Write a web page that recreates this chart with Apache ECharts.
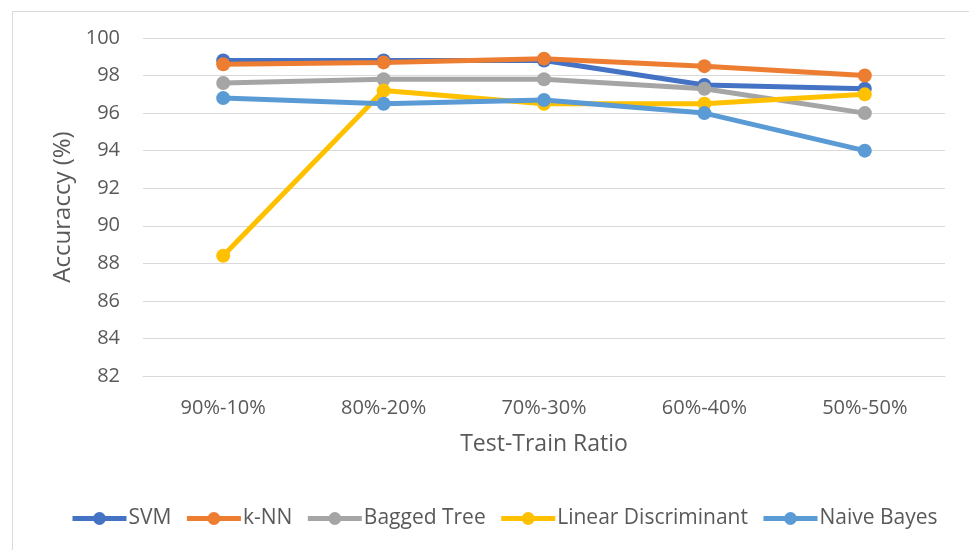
<!DOCTYPE html>
<html>
<head>
<meta charset="utf-8">
<script src="https://cdn.jsdelivr.net/npm/echarts@6/dist/echarts.min.js"></script>
<style>
  html, body { margin: 0; padding: 0; background: #fff; }
  #chart { width: 969px; height: 550px; }
</style>
</head>
<body>
<div id="chart"></div>
<script>
// Test-train split ratios along the x axis
const categories = ['90%-10%', '80%-20%', '70%-30%', '60%-40%', '50%-50%'];

// Classifier accuracies (%)
const svm = [98.8, 98.8, 98.8, 97.5, 97.3];
const knn = [98.6, 98.7, 98.9, 98.5, 98.0];
const baggedTree = [97.6, 97.8, 97.8, 97.3, 96.0];
const linearDiscriminant = [88.4, 97.2, 96.5, 96.5, 97.0];
const naiveBayes = [96.8, 96.5, 96.7, 96.0, 94.0];

// Y axis range and step
const yMin = 82, yMax = 100, yStep = 2;

const font = '"Open Sans", Lato, sans-serif';
const textColor = '#595959';
const gridColor = '#d9d9d9';

function lineSeries(name, data, color) {
  return {
    name: name,
    type: 'line',
    data: data,
    symbol: 'circle',
    symbolSize: 14,
    lineStyle: { width: 5, color: color },
    itemStyle: { color: color },
    emphasis: { disabled: true }
  };
}

const chart = echarts.init(document.getElementById('chart'), null, { renderer: 'canvas' });
chart.setOption({
  animation: false,
  backgroundColor: '#ffffff',
  graphic: [{
    type: 'rect',
    left: 10, top: 9,
    shape: { width: 1000, height: 600 },
    style: { fill: 'none', stroke: '#d9d9d9', lineWidth: 1 },
    z: -1
  }],
  grid: { left: 143, right: 24, top: 38, bottom: 174 },
  legend: {
    left: 70,
    top: 508,
    padding: 0,
    itemWidth: 54,
    itemHeight: 16,
    itemGap: 13,
    lineStyle: { width: 5 },
    textStyle: { fontFamily: font, fontSize: 21, color: textColor, padding: [0, 0, 0, -3] },
    data: ['SVM', 'k-NN', 'Bagged Tree', 'Linear Discriminant', 'Naive Bayes']
  },
  xAxis: {
    type: 'category',
    data: categories,
    boundaryGap: true,
    name: 'Test-Train Ratio',
    nameLocation: 'middle',
    nameGap: 57,
    nameTextStyle: { fontFamily: font, fontSize: 23, color: textColor },
    axisLine: { lineStyle: { color: gridColor, width: 1 } },
    axisTick: { show: false },
    axisLabel: { fontFamily: font, fontSize: 20, color: textColor, margin: 22 }
  },
  yAxis: {
    type: 'value',
    min: yMin,
    max: yMax,
    interval: yStep,
    name: 'Accuraccy (%)',
    nameLocation: 'middle',
    nameGap: 65,
    nameTextStyle: { fontFamily: font, fontSize: 24, color: textColor },
    axisLine: { show: false },
    axisTick: { show: false },
    splitLine: { lineStyle: { color: gridColor, width: 1 } },
    axisLabel: { fontFamily: font, fontSize: 20, color: textColor, margin: 23 }
  },
  series: [
    lineSeries('SVM', svm, '#4472C4'),
    lineSeries('k-NN', knn, '#ED7D31'),
    lineSeries('Bagged Tree', baggedTree, '#A5A5A5'),
    lineSeries('Linear Discriminant', linearDiscriminant, '#FFC000'),
    lineSeries('Naive Bayes', naiveBayes, '#5B9BD5')
  ]
});
</script>
</body>
</html>
